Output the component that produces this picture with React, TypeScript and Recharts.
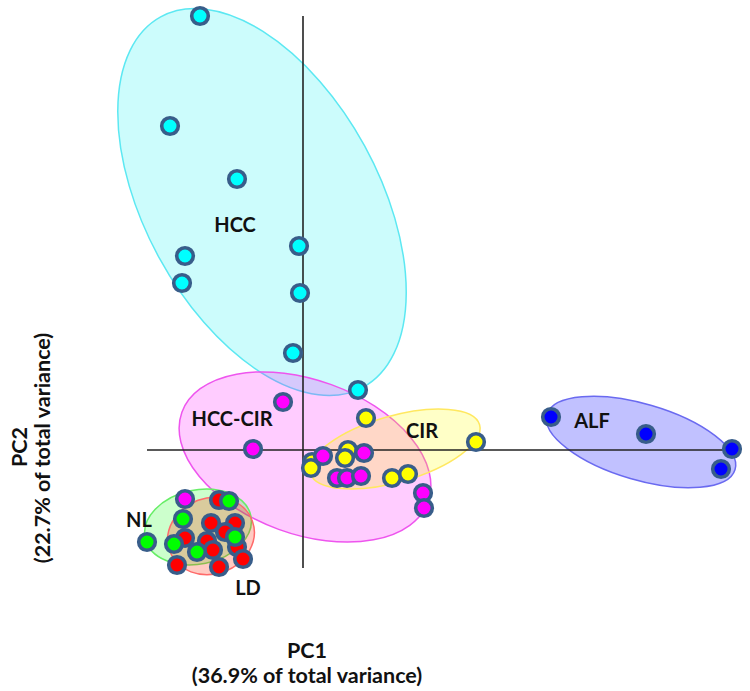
import { Scatter, ScatterChart, XAxis, YAxis } from 'recharts'

const W = 750
const H = 691
const X_DOMAIN: [number, number] = [-30.3, 44.7]
const Y_DOMAIN: [number, number] = [-24.1, 45.0]
const PX_X = W / (X_DOMAIN[1] - X_DOMAIN[0])
const PX_Y = H / (Y_DOMAIN[1] - Y_DOMAIN[0])

// sample scores (PC1, PC2)
const hccPoints = [
  { x: -10.3, y: 43.4 }, { x: -13.3, y: 32.4 }, { x: -6.6, y: 27.1 },
  { x: -0.4, y: 20.4 }, { x: -11.8, y: 19.4 }, { x: -12.1, y: 16.7 },
  { x: -0.3, y: 15.7 }, { x: -1.0, y: 9.7 }, { x: 5.5, y: 6.0 },
]
const cirPoints = [
  { x: 6.3, y: 3.2 }, { x: 4.5, y: 0.0 }, { x: 4.2, y: -0.8 }, { x: 0.9, y: -1.2 },
  { x: 0.8, y: -1.8 }, { x: 8.9, y: -2.8 }, { x: 10.5, y: -2.4 }, { x: 17.3, y: 0.8 },
]
const hccCirPoints = [
  { x: -2.0, y: 4.8 }, { x: -5.0, y: 0.1 }, { x: 2.0, y: -0.6 }, { x: 6.1, y: -0.3 },
  { x: 3.4, y: -2.8 }, { x: 4.4, y: -2.8 }, { x: 5.8, y: -2.6 }, { x: 12.0, y: -4.3 },
  { x: 12.1, y: -5.8 }, { x: -11.8, y: -4.9 },
]
const alfPoints = [
  { x: 24.8, y: 3.3 }, { x: 34.3, y: 1.6 }, { x: 42.9, y: 0.1 }, { x: 41.8, y: -1.9 },
]
const ldPoints = [
  { x: -8.4, y: -5.0 }, { x: -9.2, y: -7.3 }, { x: -6.8, y: -7.3 }, { x: -11.8, y: -8.8 },
  { x: -9.6, y: -9.1 }, { x: -9.0, y: -10.0 }, { x: -6.6, y: -9.7 }, { x: -12.6, y: -11.5 },
  { x: -8.4, y: -11.7 }, { x: -6.0, y: -10.9 }, { x: -7.8, y: -8.2 },
]
const nlPoints = [
  { x: -7.4, y: -5.1 }, { x: -12.0, y: -6.9 }, { x: -15.6, y: -9.2 },
  { x: -12.9, y: -9.4 }, { x: -10.6, y: -10.2 }, { x: -6.8, y: -8.7 },
]

// group ellipses: centre, semi-axes (PC units), rotation in degrees
const ellipses = [
  { group: 'HCC', x: -4.1, y: 24.8, rx: 21.1, ry: 11.7, angle: 61.3 },
  { group: 'HCC-CIR', x: 0.2, y: -0.7, rx: 13.1, ry: 7.7, angle: 20 },
  { group: 'CIR', x: 9.2, y: 0.1, rx: 8.8, ry: 3.3, angle: -16 },
  { group: 'ALF', x: 33.8, y: 0.8, rx: 9.8, ry: 3.8, angle: 16.3 },
  { group: 'NL', x: -10.5, y: -7.7, rx: 5.4, ry: 3.7, angle: -12 },
  { group: 'LD', x: -9.2, y: -8.6, rx: 4.4, ry: 3.8, angle: -20 },
]

const groupLabels = [
  { text: 'HCC', x: -6.8, y: 22.6 },
  { text: 'HCC-CIR', x: -7.1, y: 3.2 },
  { text: 'CIR', x: 11.9, y: 2.0 },
  { text: 'ALF', x: 28.9, y: 3.0 },
  { text: 'NL', x: -16.4, y: -6.9 },
  { text: 'LD', x: -5.5, y: -13.7 },
]

const pc1Line = [{ x: -15.6, y: 0 }, { x: 43.2, y: 0 }]
const pc2Line = [{ x: 0, y: 43.4 }, { x: 0, y: -11.8 }]

const groupStyle: Record<string, { dot: string; fill: string; opacity: number; stroke: string }> = {
  HCC: { dot: '#00ffff', fill: '#00f0f0', opacity: 0.2, stroke: '#5ce8f2' },
  'HCC-CIR': { dot: '#ff00ff', fill: '#ff00ff', opacity: 0.2, stroke: '#ee55ee' },
  CIR: { dot: '#ffff00', fill: '#ffff00', opacity: 0.22, stroke: '#ffe860' },
  ALF: { dot: '#0000ff', fill: '#3333ff', opacity: 0.3, stroke: '#6a6af0' },
  NL: { dot: '#00ff00', fill: '#00ff00', opacity: 0.2, stroke: '#66ee66' },
  LD: { dot: '#ff0000', fill: '#ff3010', opacity: 0.25, stroke: '#ff6a6a' },
}

const FONT = 'Lato, "Liberation Sans", sans-serif'

const EllipseShape = (props: any) => {
  const { cx, cy, payload } = props
  const st = groupStyle[payload.group]
  return (
    <ellipse
      cx={cx}
      cy={cy}
      rx={payload.rx * PX_X}
      ry={payload.ry * PX_Y}
      transform={`rotate(${payload.angle} ${cx} ${cy})`}
      fill={st.fill}
      fillOpacity={st.opacity}
      stroke={st.stroke}
      strokeWidth={1.5}
    />
  )
}

const dotShape = (color: string) => (props: any) => (
  <circle cx={props.cx} cy={props.cy} r={8.3} fill={color} stroke="#385d8a" strokeWidth={3.6} />
)

const LabelShape = (props: any) => (
  <text
    x={props.cx}
    y={props.cy}
    textAnchor="middle"
    dominantBaseline="central"
    fontFamily={FONT}
    fontWeight={700}
    fontSize={20}
    fill="#111"
  >
    {props.payload.text}
  </text>
)

const noShape = () => <g />

const Title = ({ x, y, text, rotate }: { x: number; y: number; text: string; rotate?: boolean }) => (
  <div
    style={{
      position: 'absolute',
      left: x,
      top: y,
      transform: `translate(-50%, -50%)${rotate ? ' rotate(-90deg)' : ''}`,
      whiteSpace: 'nowrap',
      fontFamily: FONT,
      fontWeight: 700,
      fontSize: 21.5,
      lineHeight: 1,
      color: '#111',
    }}
  >
    {text}
  </div>
)

export default function App() {
  return (
    <div style={{ position: 'absolute', left: 0, top: 0, width: W, height: H, background: '#fff' }}>
      <ScatterChart width={W} height={H} margin={{ top: 0, right: 0, bottom: 0, left: 0 }}>
        <XAxis type="number" dataKey="x" domain={X_DOMAIN} allowDataOverflow hide />
        <YAxis type="number" dataKey="y" domain={Y_DOMAIN} allowDataOverflow hide />
        <Scatter data={ellipses} shape={EllipseShape} isAnimationActive={false} />
        <Scatter data={pc1Line} line={{ stroke: '#222', strokeWidth: 1.6 }} shape={noShape} isAnimationActive={false} />
        <Scatter data={pc2Line} line={{ stroke: '#222', strokeWidth: 1.6 }} shape={noShape} isAnimationActive={false} />
        <Scatter data={groupLabels} shape={LabelShape} isAnimationActive={false} />
        <Scatter data={hccPoints} shape={dotShape(groupStyle.HCC.dot)} isAnimationActive={false} />
        <Scatter data={cirPoints} shape={dotShape(groupStyle.CIR.dot)} isAnimationActive={false} />
        <Scatter data={hccCirPoints} shape={dotShape(groupStyle['HCC-CIR'].dot)} isAnimationActive={false} />
        <Scatter data={alfPoints} shape={dotShape(groupStyle.ALF.dot)} isAnimationActive={false} />
        <Scatter data={ldPoints} shape={dotShape(groupStyle.LD.dot)} isAnimationActive={false} />
        <Scatter data={nlPoints} shape={dotShape(groupStyle.NL.dot)} isAnimationActive={false} />
      </ScatterChart>
      <Title x={307} y={651} text="PC1" />
      <Title x={307} y={676} text="(36.9% of total variance)" />
      <Title x={20} y={447} text="PC2" rotate />
      <Title x={43} y={448} text="(22.7% of total variance)" rotate />
    </div>
  )
}
